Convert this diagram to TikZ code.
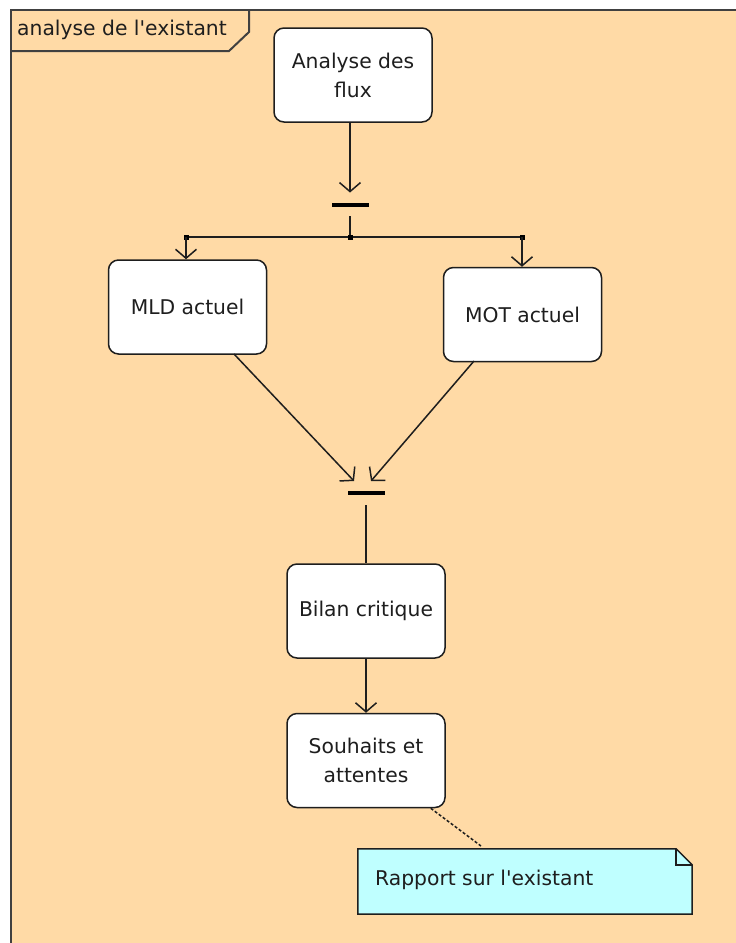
\documentclass[tikz,border=0pt]{standalone}
\usepackage{fontspec}
\setmainfont{DejaVu Sans}[Ligatures=TeXOff]
\usetikzlibrary{arrows.meta,calc}
\definecolor{peach}{RGB}{255,218,166}
\definecolor{notecyan}{RGB}{191,255,255}
\definecolor{framegray}{RGB}{64,64,64}
\definecolor{ink}{RGB}{30,30,30}
\begin{document}
\begin{tikzpicture}[x=1pt,y=-1pt,
  frame/.style={draw=framegray,line width=2pt},
  activity/.style={draw=ink,fill=white,line width=1.5pt,rounded corners=10pt,
    minimum width=158pt,minimum height=94pt,align=center,inner sep=0pt,
    text=ink,font=\fontsize{20.3}{29}\selectfont},
  bar/.style={fill=black,minimum width=37pt,minimum height=4.5pt,inner sep=0pt},
  flow/.style={draw=ink,line width=1.5pt,
    -{Straight Barb[length=9pt,width=21pt,line width=1.5pt]}},
  link/.style={draw=ink,line width=1.5pt},
  dot/.style={fill=black,minimum size=5pt,inner sep=0pt},
  label/.style={anchor=west,inner sep=0pt,text=ink,font=\fontsize{20.3}{24}\selectfont},
  anchorline/.style={draw=ink,line width=1.5pt,dash pattern=on 3pt off 2pt}]
\useasboundingbox (0,0) rectangle (736,943);
\fill[white] (0,0) rectangle (736,943);
% swimlane area and its name tab
\fill[peach] (11,10) rectangle (736,943);
\draw[frame] (11,943) -- (11,10) -- (736,10);
\draw[frame] (249,10) -- (249,32) -- (229,51) -- (11,51);
\node[label] (lane) at (17,30) {analyse de l'existant};

% activities
\node[activity] (flux) at (353,75) {Analyse des\\flux};
\node[activity] (mld) at (187.5,307) {MLD actuel};
\node[activity] (mot) at (522.5,314.5) {MOT actuel};
\node[activity] (bilan) at (366,611) {Bilan critique};
\node[activity] (souhaits) at (366,760.5) {Souhaits et\\attentes};

% fork and join bars
\node[bar] (fork) at (350,205) {};
\node[bar] (join) at (366,493) {};

% split line below the fork
\coordinate (splitM) at (350,237);
\coordinate (splitL) at (186,237);
\coordinate (splitR) at (522,237);
\coordinate (joinL) at (354,481);
\coordinate (joinR) at (371,481);
\coordinate (mldOut) at (234,354);
\coordinate (motOut) at (474,361);

\draw[flow] (flux.south -| fork) -- ($(fork.north)+(0,-10)$);
\draw[link] ($(fork.south)+(0,9)$) -- (splitM);
\draw[link] (splitL) -- (splitR);
\node[dot] at (splitM) {};
\node[dot] at (splitL) {};
\node[dot] at (splitR) {};
\draw[flow] (splitL) -- (splitL |- mld.north);
\draw[flow] (splitR) -- (splitR |- mot.north);

\draw[flow] (mldOut) -- (joinL);
\draw[flow] (motOut) -- (joinR);
\draw[link] ($(join.south)+(0,10)$) -- (bilan.north);
\draw[flow] (bilan.south) -- (souhaits.north);

% note attached to the last activity
\node[minimum width=334pt,minimum height=65pt,inner sep=0pt] (note) at (525,881.5) {};
\draw[line width=1.5pt,draw=ink,fill=notecyan]
  (note.north west) -- ($(note.north east)+(-16,0)$) -- ($(note.north east)+(0,16)$)
  -- (note.south east) -- (note.south west) -- cycle;
\draw[line width=1.5pt,draw=ink]
  ($(note.north east)+(-16,0)$) -- ($(note.north east)+(-16,16)$) -- ($(note.north east)+(0,16)$);
\node[label] (notetext) at (375,880) {Rapport sur l'existant};
\draw[anchorline] (souhaits.south east) ++(-15,0) -- (481,846);
\end{tikzpicture}
\end{document}
